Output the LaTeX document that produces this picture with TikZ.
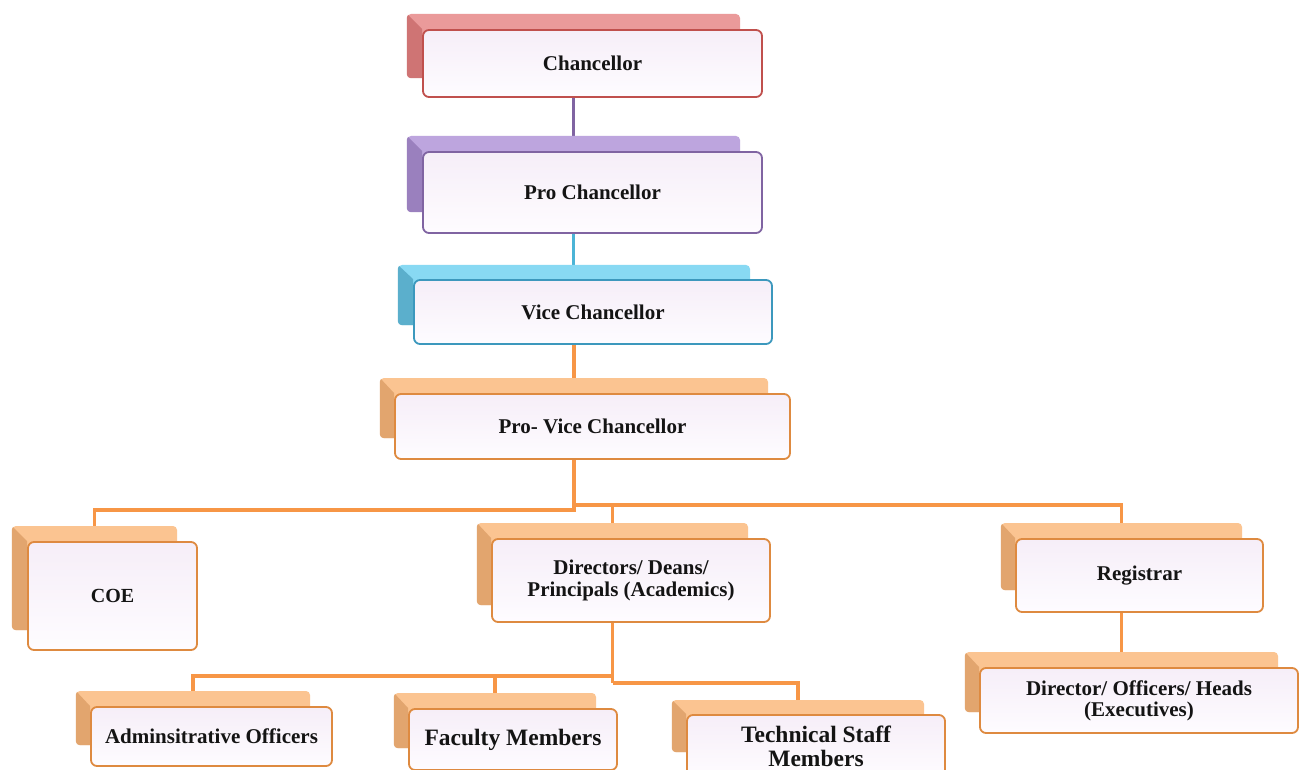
\documentclass[tikz,border=0pt]{standalone}
\usepackage{fontspec}
\setmainfont{Liberation Serif}
\usetikzlibrary{calc}
\pgfdeclarelayer{bg}
\pgfdeclarelayer{mid}
\pgfsetlayers{bg,mid,main}
\definecolor{rdB}{HTML}{EA9A9A}
\definecolor{rdV}{HTML}{CF7474}
\definecolor{rdD}{HTML}{C0504D}
\definecolor{puB}{HTML}{BDA5DE}
\definecolor{puV}{HTML}{9A80BE}
\definecolor{puD}{HTML}{8064A2}
\definecolor{blB}{HTML}{88D9F3}
\definecolor{blV}{HTML}{5BAFCC}
\definecolor{blD}{HTML}{3C98BD}
\definecolor{blL}{HTML}{4BB4D6}
\definecolor{orB}{HTML}{FBC491}
\definecolor{orV}{HTML}{E2A56E}
\definecolor{orD}{HTML}{DE8A40}
\definecolor{orL}{HTML}{F79646}
\definecolor{frTop}{HTML}{F6EEF8}
\definecolor{frBot}{HTML}{FEFCFF}
\definecolor{txt}{HTML}{141414}
\tikzset{
  slab/.style={rounded corners=4pt, inner sep=0pt, draw=none},
  frontbox/.style={rounded corners=6pt, inner sep=2pt, line width=1.8pt,
    top color=frTop, bottom color=frBot, align=center, text=txt,
    font=\bfseries\fontsize{21}{22}\selectfont},
  link/.style={line width=3.2pt},
}
\newcommand\slabbevel[2]{%
  \begin{pgfonlayer}{mid}
  \begin{scope}
    \clip[rounded corners=4pt] (#1B.north west) rectangle (#1B.south east);
    \fill[#2] (#1B.north west) -- (#1.north west) -- (#1.west |- #1B.south) -- (#1B.south west) -- cycle;
  \end{scope}
  \end{pgfonlayer}}
\begin{document}
\begin{tikzpicture}[x=1pt,y=-1pt]
\useasboundingbox (0,0) rectangle (1299,770);
\begin{pgfonlayer}{bg}
\fill[white] (0,0) rectangle (1299,770);
\end{pgfonlayer}
% back slabs
\begin{pgfonlayer}{mid}
\node[slab, fill=rdB, minimum width=333pt, minimum height=64pt] (chB) at (573.5,46) {};
\node[slab, fill=puB, minimum width=333pt, minimum height=76pt] (pcB) at (573.5,174) {};
\node[slab, fill=blB, minimum width=352pt, minimum height=60pt] (vcB) at (574,295) {};
\node[slab, fill=orB, minimum width=388pt, minimum height=60pt] (pvB) at (574,408) {};
\node[slab, fill=orB, minimum width=165pt, minimum height=104pt] (coeB) at (94.5,578) {};
\node[slab, fill=orB, minimum width=271pt, minimum height=82pt] (dirB) at (612.5,564) {};
\node[slab, fill=orB, minimum width=241pt, minimum height=67pt] (regB) at (1121.5,556.5) {};
\node[slab, fill=orB, minimum width=313pt, minimum height=60pt] (dohB) at (1121.5,682) {};
\node[slab, fill=orB, minimum width=234pt, minimum height=54pt] (admB) at (193,718) {};
\node[slab, fill=orB, minimum width=202pt, minimum height=55pt] (facB) at (495,720.5) {};
\node[slab, fill=orB, minimum width=252pt, minimum height=52pt] (tecB) at (798,726) {};
\end{pgfonlayer}
% front boxes
\node[frontbox, draw=rdD, minimum width=339pt, minimum height=67pt] (ch) at (592.5,63.5) {Chancellor};
\node[frontbox, draw=puD, minimum width=339pt, minimum height=81pt] (pc) at (592.5,192.5) {Pro Chancellor};
\node[frontbox, draw=blD, minimum width=358pt, minimum height=64pt] (vc) at (593,312) {Vice Chancellor};
\node[frontbox, draw=orD, minimum width=395pt, minimum height=65pt] (pv) at (592.5,426.5) {Pro- Vice Chancellor};
\node[frontbox, draw=orD, minimum width=169pt, minimum height=108pt, font=\bfseries\fontsize{20}{22}\selectfont] (coe) at (112.5,596) {COE};
\node[frontbox, draw=orD, minimum width=278pt, minimum height=83pt] (dir) at (631,580.5) {Directors/ Deans/\\Principals (Academics)};
\node[frontbox, draw=orD, minimum width=247pt, minimum height=73pt] (reg) at (1139.5,575.5) {Registrar};
\node[frontbox, draw=orD, minimum width=318pt, minimum height=65pt, font=\bfseries\fontsize{21}{21}\selectfont] (doh) at (1139,700.5) {Director/ Officers/ Heads\\(Executives)};
\node[frontbox, draw=orD, minimum width=241pt, minimum height=59pt] (adm) at (211.5,736.5) {Adminsitrative Officers};
\node[frontbox, draw=orD, minimum width=208pt, minimum height=61pt, font=\bfseries\fontsize{23.5}{24}\selectfont] (fac) at (513,739.5) {Faculty Members};
\node[frontbox, draw=orD, minimum width=258pt, minimum height=62pt, font=\bfseries\fontsize{23.5}{24}\selectfont] (tec) at (816,746) {Technical Staff\\Members};
% bevels
\slabbevel{ch}{rdV}
\slabbevel{pc}{puV}
\slabbevel{vc}{blV}
\slabbevel{pv}{orV}
\slabbevel{coe}{orV}
\slabbevel{dir}{orV}
\slabbevel{reg}{orV}
\slabbevel{doh}{orV}
\slabbevel{adm}{orV}
\slabbevel{fac}{orV}
\slabbevel{tec}{orV}
% connectors
\coordinate (jL) at (574,510);
\coordinate (jR) at (574,505);
\coordinate (jD) at (612.5,676);
\coordinate (jD2) at (612.5,683);
\begin{pgfonlayer}{bg}
\draw[link, puD] (chB.center) -- (chB.center |- pcB.north);
\draw[link, blL] (pcB.center) -- (pcB.center |- vcB.north);
\draw[link, orL] (vcB.center) -- (vcB.center |- pvB.north);
\draw[link, orL] (pvB.center) -- (jL) -| (coeB.north);
\draw[link, orL] (jR) -| (regB.north);
\draw[link, orL] (dirB.north) -- (dirB.north |- jR);
\draw[link, orL] (dirB.center) -- (jD2);
\draw[link, orL] (jD) -| (admB.north);
\draw[link, orL] (facB.north) -- (facB.north |- jD);
\draw[link, orL] (jD2) -| (tecB.north);
\draw[link, orL] (regB.center) -- (regB.center |- dohB.north);
\end{pgfonlayer}
\end{tikzpicture}
\end{document}
